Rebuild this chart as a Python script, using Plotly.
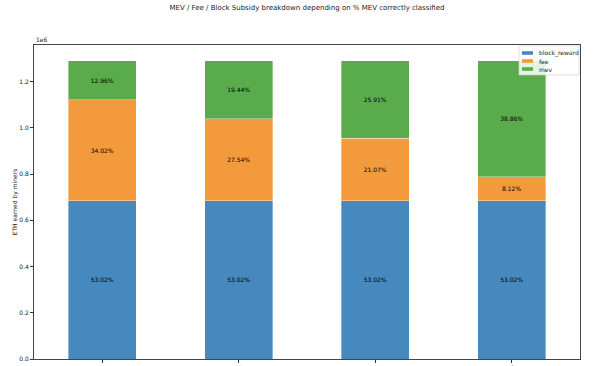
import plotly.graph_objects as go

categories = ["0.2", "0.3", "0.4", "0.6"]
block_reward = [684000, 684000, 684000, 684000]
fee = [438900, 355300, 271800, 104700]
mev = [167200, 250800, 334200, 501300]
block_pct = ["53.02%", "53.02%", "53.02%", "53.02%"]
fee_pct = ["34.02%", "27.54%", "21.07%", "8.12%"]
mev_pct = ["12.96%", "19.44%", "25.91%", "38.86%"]
ytick_vals = [0, 200000, 400000, 600000, 800000, 1000000, 1200000]
ytick_text = ["0.0", "0.2", "0.4", "0.6", "0.8", "1.0", "1.2"]
series_names = ["block_reward", "fee", "mev"]

colors = {"block_reward": "#4689be", "fee": "#f39a3c", "mev": "#5aab4b"}
font = "DejaVu Sans, Liberation Sans, sans-serif"
W, H = 600, 366
ML, MR, MT, MB = 34, 20, 45, 7
PW, PH = W - ML - MR, H - MT - MB

def px(x):
    return (x - ML) / PW

def py(y):
    return (H - MB - y) / PH

fig = go.Figure()
for name, vals, txt in [("block_reward", block_reward, block_pct),
                        ("fee", fee, fee_pct),
                        ("mev", mev, mev_pct)]:
    fig.add_trace(go.Bar(
        x=list(range(len(categories))), y=vals, name=name, width=0.5,
        marker=dict(color=colors[name], line=dict(width=0.6, color="rgba(255,255,255,0.6)")),
        text=txt, textposition="inside", insidetextanchor="middle",
        textfont=dict(color="black", size=6, family=font),
        constraintext="none", showlegend=False,
    ))

fig.update_layout(
    barmode="stack",
    width=W, height=H,
    margin=dict(l=ML, r=MR, t=MT, b=MB, autoexpand=False),
    paper_bgcolor="white", plot_bgcolor="white",
    font=dict(family=font, size=6, color="#222"),
    title=dict(text="MEV / Fee / Block Subsidy breakdown depending on % MEV correctly classified",
               x=0.5, xanchor="center", xref="paper", yref="container", y=1 - 8 / H, yanchor="middle",
               font=dict(size=7, family=font, color="#222")),
    showlegend=False,
)
fig.update_xaxes(
    range=[-0.5, 3.5], tickmode="array", tickvals=list(range(len(categories))),
    ticktext=categories, tickangle=-90, ticks="outside", ticklen=3, tickwidth=0.6,
    tickcolor="#333", showline=True, linecolor="#444", linewidth=0.8, mirror=True,
    showgrid=False, zeroline=False, tickfont=dict(size=6, color="#222"), automargin=False,
)
fig.update_yaxes(
    range=[0, 1359000], tickmode="array", tickvals=ytick_vals, ticktext=ytick_text,
    ticks="outside", ticklen=3, tickwidth=0.6, tickcolor="#333",
    showline=True, linecolor="#444", linewidth=0.8, mirror=True,
    showgrid=False, zeroline=False, tickfont=dict(size=6, color="#222"), automargin=False,
    title=dict(text="ETH earned by miners", font=dict(size=6, color="#222"), standoff=0),
)
fig.add_annotation(text="1e6", xref="paper", yref="paper", x=0, y=1.0,
                   xanchor="left", yanchor="bottom", showarrow=False,
                   font=dict(size=6, color="#222"), yshift=0)

# legend box (matplotlib-style, drawn in the upper right)
fig.add_shape(type="rect", xref="paper", yref="paper",
              x0=px(519), x1=px(579), y0=py(75), y1=py(46),
              line=dict(color="#cccccc", width=0.6), fillcolor="rgba(255,255,255,0.85)", layer="above")
for i, name in enumerate(series_names):
    yc = 53 + 8 * i
    fig.add_shape(type="rect", xref="paper", yref="paper",
                  x0=px(522), x1=px(533), y0=py(yc + 1.8), y1=py(yc - 1.8),
                  line=dict(width=0), fillcolor=colors[name], layer="above")
    fig.add_annotation(text=name, xref="paper", yref="paper", x=px(537), y=py(yc),
                       xanchor="left", yanchor="middle", showarrow=False,
                       font=dict(size=6, color="#222"))

fig.write_html("out.html", config={"displayModeBar": False},
               post_script="document.body.style.margin='0px';document.body.style.overflow='hidden';")
